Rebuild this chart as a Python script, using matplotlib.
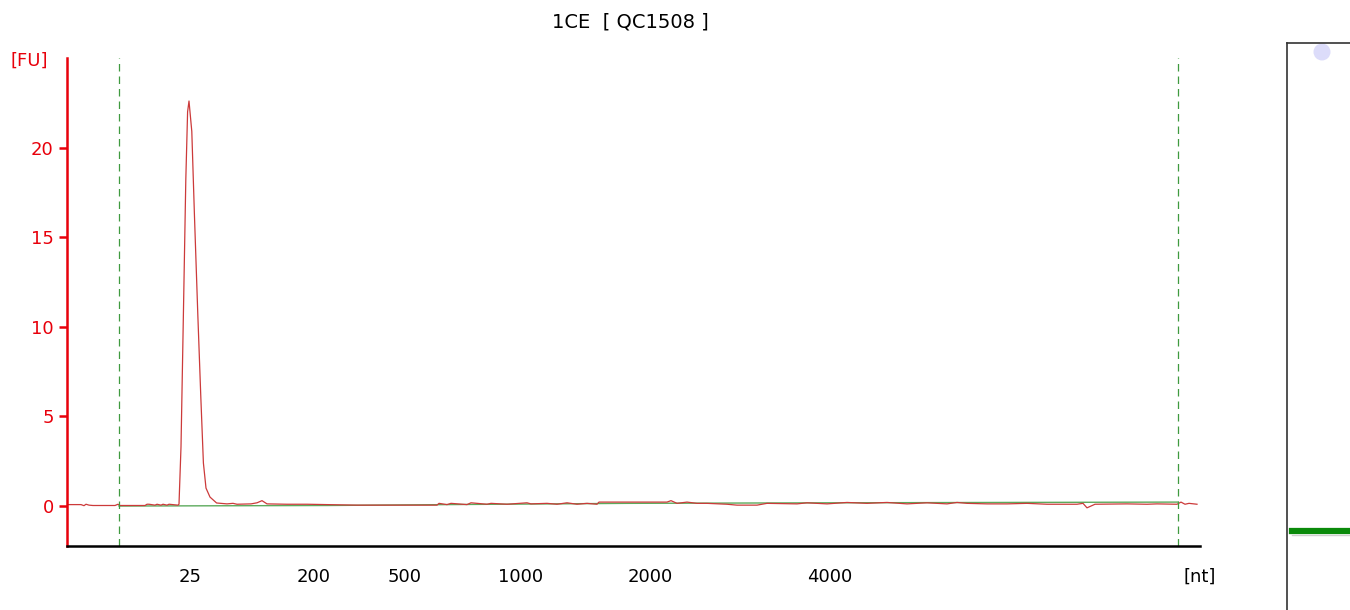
import numpy as np
import matplotlib.pyplot as plt

# electropherogram, x = migration time [s]
sig_t = [17.0, 17.7, 17.85, 17.95, 18.1, 18.3, 19.4, 19.55, 19.65, 20.0, 20.9, 21.0, 21.1, 21.4, 21.5, 21.7,
         21.8, 22.0, 22.1, 22.55, 22.6, 22.7, 22.82, 22.94, 23.03, 23.1, 23.24, 23.37, 23.54, 23.69,
         23.82, 23.95, 24.15, 24.48, 25.0, 25.3, 25.5, 26.2, 26.5, 26.75, 27.0, 28.0, 29.0, 30.0,
         31.5, 33.0, 35.5, 35.6, 36.0, 36.2, 37.0, 37.2, 38.0, 38.2, 39.0, 40.0, 40.2, 41.0, 41.5,
         42.0, 42.5, 43.0, 43.5, 43.6, 47.0, 47.2, 47.5, 48.0, 48.5, 49.0, 50.0, 50.5, 51.5, 52.0,
         53.5, 54.0, 55.0, 56.0, 57.0, 58.0, 59.0, 60.0, 61.0, 61.5, 62.0, 63.0, 64.0, 65.0, 66.0,
         67.5, 67.8, 68.0, 68.4, 70.0, 71.0, 71.5, 72.5, 72.7, 72.9, 73.1, 73.5]
sig_fu = [0.08, 0.08, 0.02, 0.1, 0.05, 0.03, 0.03, 0.1, 0.03, 0.03, 0.03, 0.1, 0.1, 0.05, 0.1, 0.05,
          0.1, 0.05, 0.1, 0.05, 0.1, 3.3, 10.7, 18.2, 22.0, 22.6, 20.9, 16.3, 10.7, 6.1,
          2.4, 1.0, 0.5, 0.17, 0.12, 0.15, 0.1, 0.12, 0.18, 0.3, 0.12, 0.1, 0.1, 0.08,
          0.05, 0.05, 0.05, 0.15, 0.08, 0.15, 0.08, 0.18, 0.1, 0.15, 0.1, 0.18, 0.12, 0.15, 0.1,
          0.18, 0.1, 0.15, 0.1, 0.22, 0.22, 0.3, 0.15, 0.22, 0.15, 0.15, 0.1, 0.05, 0.05, 0.15,
          0.12, 0.18, 0.12, 0.2, 0.15, 0.2, 0.12, 0.18, 0.12, 0.2, 0.15, 0.12, 0.12, 0.15, 0.1,
          0.1, 0.15, -0.1, 0.1, 0.12, 0.1, 0.12, 0.1, 0.22, 0.1, 0.15, 0.1]

# fitted baseline
base_t = [19.6, 30.0, 36.0, 45.0, 55.0, 72.55]
base_fu = [0.0, 0.03, 0.08, 0.15, 0.18, 0.22]

marker_lo = 19.6
marker_hi = 72.55

tick_pos = [23.15, 29.35, 33.9, 39.7, 46.15, 55.15]
tick_lab = ['25', '200', '500', '1000', '2000', '4000']

# gel lane
band_t = [22.7]
spot_t = [69.13]

red = '#e8000b'

fig = plt.figure(figsize=(13.5, 6.1), dpi=100)
ax = fig.add_axes([67 / 1350, 64 / 610, 1133 / 1350, 488 / 610])

ax.plot(base_t, base_fu, color='#5caa5c', lw=1.0)
ax.plot(sig_t, sig_fu, color='#cc3a3a', lw=0.9)
for xm in [marker_lo, marker_hi]:
    ax.axvline(xm, color='#3f9a3f', lw=0.9, ls=(0, (6, 4)))

ax.set_xlim(17, 73.65)
ax.set_ylim(-2.23, 25)

for s in ['top', 'right']:
    ax.spines[s].set_visible(False)
ax.spines['left'].set_color(red)
ax.spines['left'].set_linewidth(1.8)
ax.spines['bottom'].set_color('black')
ax.spines['bottom'].set_linewidth(1.8)

ax.set_yticks([0, 5, 10, 15, 20])
ax.tick_params(axis='y', colors=red, labelcolor=red, length=6, width=1.8, labelsize=13)
ax.set_xticks(tick_pos)
ax.set_xticklabels(tick_lab)
ax.tick_params(axis='x', length=0, pad=16, labelsize=13)

fig.text(10 / 1350, 1 - 61 / 610, '[FU]', color=red, fontsize=13, va='center', ha='left')
fig.text(1200 / 1350, 1 - 577 / 610, '[nt]', fontsize=13, va='center', ha='center')
fig.text(630 / 1350, 1 - 22 / 610, '1CE  [ QC1508 ]', fontsize=14, va='center', ha='center')

# gel lane on the right
gax = fig.add_axes([1287 / 1350, -0.02, 0.08, 1 - 43 / 610 + 0.02])
gax.set_xlim(0, 1)
gax.set_ylim(13.86, 70.0)
for s in ['right', 'bottom']:
    gax.spines[s].set_visible(False)
for s in ['left', 'top']:
    gax.spines[s].set_color('#333333')
    gax.spines[s].set_linewidth(1.2)
gax.set_xticks([])
gax.set_yticks([])
for yb in band_t:
    gax.axhline(yb, xmin=0.046, xmax=1, color='#0a8a0a', lw=4.5)
    gax.axhline(yb - 0.35, xmin=0.046, xmax=1, color='#cfcfcf', lw=1.0)
gax.scatter([0.324] * len(spot_t), spot_t, s=150, color='#dcdcfa', edgecolors='none')

fig.savefig('out.png', dpi=100)
